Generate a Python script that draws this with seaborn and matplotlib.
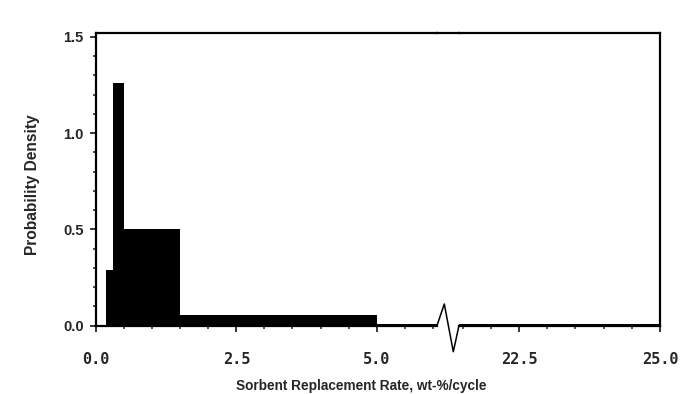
import matplotlib
matplotlib.use("Agg")
import matplotlib.pyplot as plt
from matplotlib.lines import Line2D
from matplotlib.ticker import MultipleLocator, FixedLocator
import seaborn as sns
import numpy as np

# histogram (bin edges in wt-%/cycle, density per bin)
bin_edges = [0.17, 0.31, 0.50, 1.50, 5.00, 25.0]
densite = [0.29, 1.26, 0.50, 0.055, 0.008]

ticks_gauche = [0.0, 2.5, 5.0]
ticks_droite = [22.5, 25.0]
ticks_y = [0.0, 0.5, 1.0, 1.5]

sns.set_style("ticks")
plt.rcParams["font.family"] = ["Liberation Sans", "DejaVu Sans"]

W, H = 691, 394
fig = plt.figure(figsize=(W / 100, H / 100), dpi=100)

# positions (pixels of the reference)
y_base, y_top = 325.5, 33
x0, x_cut1, x_cut2, x1 = 96, 437, 459, 660
bas = (H - y_base) / H
haut = (y_base - y_top) / H
ax1 = fig.add_axes([x0 / W, bas, (x_cut1 - x0) / W, haut])
ax2 = fig.add_axes([x_cut2 / W, bas, (x1 - x_cut2) / W, haut])

milieux = [(a + b) / 2 for a, b in zip(bin_edges[:-1], bin_edges[1:])]
for ax in (ax1, ax2):
    sns.histplot(x=milieux, weights=densite, bins=bin_edges, color="black",
                 alpha=1, linewidth=0, ax=ax)
    ax.set_ylim(0, 1.52)
    ax.set_xlabel("")
    ax.set_ylabel("")
    for s in ax.spines.values():
        s.set_linewidth(1.6)
        s.set_color("black")

ax1.set_xlim(0, (x_cut1 - x0) / 56.14)
ax2.set_xlim(25 - (x1 - x_cut2) / 56.4, 25)

ax1.spines["right"].set_visible(False)
ax2.spines["left"].set_visible(False)

ax1.xaxis.set_major_locator(FixedLocator(ticks_gauche))
ax1.xaxis.set_minor_locator(MultipleLocator(0.5))
ax2.xaxis.set_major_locator(FixedLocator(ticks_droite))
ax2.xaxis.set_minor_locator(MultipleLocator(0.5))
ax1.yaxis.set_major_locator(FixedLocator(ticks_y))
ax1.yaxis.set_minor_locator(MultipleLocator(0.1))
ax2.set_yticks([])
ax2.yaxis.set_minor_locator(FixedLocator([]))

ax1.set_xticklabels([f"{v:.1f}" for v in ticks_gauche])
ax2.set_xticklabels([f"{v:.1f}" for v in ticks_droite])
ax1.set_yticklabels([f"{v:.1f}" for v in ticks_y])

for ax in (ax1, ax2):
    ax.tick_params(axis="x", which="major", direction="out", length=4, width=1.3, pad=15)
    ax.tick_params(axis="x", which="minor", direction="out", length=2.5, width=1.1)
    for lab in ax.get_xticklabels():
        lab.set_family(["DejaVu Sans Mono"])
        lab.set_weight("bold")
        lab.set_fontsize(11)
ax1.tick_params(axis="y", which="major", direction="out", length=4, width=1.3, pad=5)
ax1.tick_params(axis="y", which="minor", direction="out", length=2.5, width=1.1)
for lab in ax1.get_yticklabels():
    lab.set_weight("bold")
    lab.set_fontsize(10.5)

# top frame across the break and the zig-zag on the axis
ytop_f = (H - y_top) / H
fig.add_artist(Line2D([x_cut1 / W, x_cut2 / W], [ytop_f, ytop_f], color="black",
                      lw=1.6, solid_capstyle="projecting"))
zx = [x_cut1, 444.3, 453.3, x_cut2]
zy = [y_base, 304, 351.7, y_base]
fig.add_artist(Line2D([x / W for x in zx], [(H - y) / H for y in zy],
                      color="black", lw=1.1))

fig.text(361 / W, (H - 386) / H, "Sorbent Replacement Rate, wt-%/cycle",
         ha="center", va="center", fontsize=9.8, fontweight="bold")
fig.text(33 / W, (H - 185) / H, "Probability Density", rotation=90,
         ha="center", va="center", fontsize=11.2, fontweight="bold")

fig.savefig("out.png", dpi=100)
